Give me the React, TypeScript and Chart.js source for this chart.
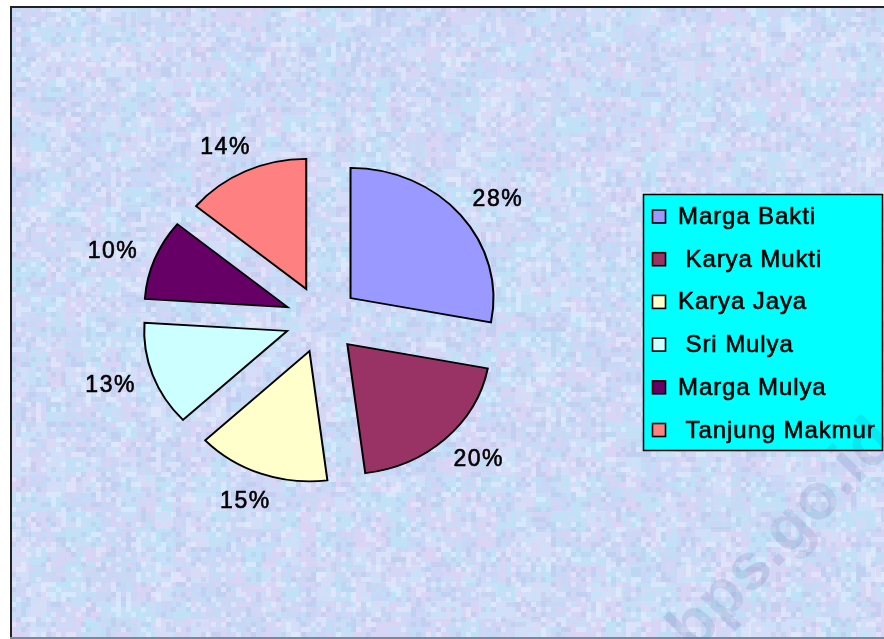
import React, { useEffect, useRef } from "react";
import { Chart, registerables, ArcElement, PieController } from "chart.js";

// ---- data ----
const CATEGORIES = ["Marga Bakti", " Karya Mukti", "Karya Jaya", " Sri Mulya", "Marga Mulya", " Tanjung Makmur"];
const PERCENTS = [28, 20, 15, 13, 10, 14];
const PERCENT_LABELS = ["28%", "20%", "15%", "13%", "10%", "14%"];
const COLORS = ["#9999FF", "#993366", "#FFFFCC", "#CCFFFF", "#660066", "#FF8080"];
const WATERMARK = "bps.go.id";

// ---- layout / style ----
const W = 884;
const H = 639;
const PIE_CX = 322;
const PIE_RADIUS = 143;
const Y_SQUASH = 0.91;
const EXPLODE = 37;
const FONT = '"Liberation Sans", Arial, Helvetica, sans-serif';

// Arc element that is pulled out from the centre by a constant distance
class ExplodedArc extends ArcElement {
  static id = "explodedArc";
  draw(ctx: CanvasRenderingContext2D) {
    const self: any = this;
    const mid = (self.startAngle + self.endAngle) / 2;
    ctx.save();
    ctx.translate(Math.cos(mid) * EXPLODE, Math.sin(mid) * EXPLODE);
    super.draw(ctx);
    ctx.restore();
  }
}
class ExplodedPieController extends PieController {
  static id = "explodedPie";
  static defaults = { dataElementType: "explodedArc" };
}

Chart.register(...registerables, ExplodedArc as any, ExplodedPieController as any);

function hash(i: number, j: number, s: number) {
  let h = Math.imul(i + 1, 374761393) ^ Math.imul(j + 7, 668265263) ^ Math.imul(s + 3, 2246822519);
  h = Math.imul(h ^ (h >>> 13), 1274126177);
  h = h ^ (h >>> 16);
  return h >>> 0;
}

const decorPlugin = {
  id: "decor",
  beforeDraw(chart: any) {
    const ctx = chart.ctx as CanvasRenderingContext2D;
    ctx.save();
    ctx.fillStyle = "#ffffff";
    ctx.fillRect(0, 0, W, H);
    const x0 = 11, y0 = 7, y1 = 638;
    ctx.beginPath();
    ctx.rect(x0, y0, W - x0, y1 - y0);
    ctx.clip();
    ctx.fillStyle = "#cbd8f5";
    ctx.fillRect(x0, y0, W - x0, y1 - y0);
    const big = ["rgba(228,210,245,0.4)", "rgba(190,232,250,0.5)", "rgba(200,212,245,0.35)", "rgba(222,230,252,0.45)", "rgba(200,215,245,0)"];
    const cb = 18;
    for (let j = 0; y0 + j * cb < y1; j++) {
      for (let i = 0; x0 + i * cb < W; i++) {
        ctx.fillStyle = big[hash(i, j, 1) % big.length];
        ctx.fillRect(x0 + i * cb, y0 + j * cb, cb, cb);
      }
    }
    const small = ["rgba(232,212,245,0.35)", "rgba(185,230,250,0.45)", "rgba(178,195,232,0.35)", "rgba(238,242,255,0.45)", "rgba(0,0,0,0)", "rgba(0,0,0,0)"];
    const cs = 5;
    for (let j = 0; y0 + j * cs < y1; j++) {
      for (let i = 0; x0 + i * cs < W; i++) {
        ctx.fillStyle = small[hash(i, j, 2) % small.length];
        ctx.fillRect(x0 + i * cs, y0 + j * cs, cs, cs);
      }
    }
    ctx.restore();
    // frame
    ctx.save();
    ctx.fillStyle = "#222";
    ctx.fillRect(10, 6, 2, 633);
    ctx.fillRect(10, 6, W - 10, 2);
    ctx.fillStyle = "#7c879c";
    ctx.fillRect(10, 637, W - 10, 2);
    ctx.restore();
  },
  beforeDatasetsDraw(chart: any) {
    const arc = chart.getDatasetMeta(0).data[0];
    const ctx = chart.ctx as CanvasRenderingContext2D;
    ctx.save();
    ctx.translate(arc.x, arc.y);
    ctx.scale(1, Y_SQUASH);
    ctx.translate(-arc.x, -arc.y);
  },
  afterDatasetsDraw(chart: any) {
    const ctx = chart.ctx as CanvasRenderingContext2D;
    ctx.restore();
    // percentage labels, outside end of each exploded slice
    const arcs = chart.getDatasetMeta(0).data;
    ctx.save();
    ctx.font = `23px ${FONT}`;
    (ctx as any).letterSpacing = "1.5px";
    ctx.fillStyle = "#000";
    ctx.strokeStyle = "#000";
    ctx.lineWidth = 0.6;
    ctx.textAlign = "center";
    ctx.textBaseline = "alphabetic";
    arcs.forEach((a: any, i: number) => {
      const mid = (a.startAngle + a.endAngle) / 2;
      const c = Math.cos(mid), s = Math.sin(mid);
      const rr = a.outerRadius + EXPLODE;
      const px = a.x + c * rr;
      const py = a.y + Y_SQUASH * s * rr;
      const n = Math.hypot(c, Y_SQUASH * s);
      const ux = c / n, uy = (Y_SQUASH * s) / n;
      const text = PERCENT_LABELS[i];
      const w = ctx.measureText(text).width;
      const h = 16;
      const g = 20;
      const lx = px + ux * g + (ux * w) / 2;
      const ly = py + uy * g + (uy * h) / 2;
      ctx.fillText(text, lx + 1, ly + 8);
      ctx.strokeText(text, lx + 1, ly + 8);
    });
    ctx.restore();
  },
  afterDraw(chart: any) {
    const ctx = chart.ctx as CanvasRenderingContext2D;
    // legend
    ctx.save();
    ctx.fillStyle = "#00FFFF";
    ctx.fillRect(643, 194, 240, 257);
    ctx.strokeStyle = "#000";
    ctx.lineWidth = 1.5;
    ctx.strokeRect(643.5, 194.5, 239, 256);
    ctx.font = `24px ${FONT}`;
    (ctx as any).letterSpacing = "0.9px";
    ctx.textAlign = "left";
    ctx.textBaseline = "alphabetic";
    CATEGORIES.forEach((name, i) => {
      const yc = 216.5 + i * 42.7;
      ctx.fillStyle = COLORS[i];
      ctx.fillRect(652.5, yc - 6.5, 13, 13);
      ctx.lineWidth = 1.6;
      ctx.strokeStyle = "#000";
      ctx.strokeRect(652.5, yc - 6.5, 13, 13);
      ctx.fillStyle = "#000";
      ctx.lineWidth = 0.6;
      ctx.fillText(name, 678, yc + 7.5);
      ctx.strokeText(name, 678, yc + 7.5);
    });
    ctx.restore();
    // watermark
    ctx.save();
    ctx.translate(694, 654);
    ctx.rotate(-0.8);
    ctx.font = `bold 66px ${FONT}`;
    ctx.fillStyle = "rgba(60,80,140,0.13)";
    ctx.textAlign = "left";
    ctx.fillText(WATERMARK, 0, 0);
    ctx.restore();
  },
};

export default function App() {
  const ref = useRef<HTMLCanvasElement>(null);
  useEffect(() => {
    const chart = new Chart(ref.current as HTMLCanvasElement, {
      type: "explodedPie" as any,
      data: {
        labels: CATEGORIES,
        datasets: [
          {
            data: PERCENTS,
            backgroundColor: COLORS,
            borderColor: "#000",
            borderWidth: 2,
            borderJoinStyle: "miter",
            offset: 0,
            hoverOffset: 0,
            radius: PIE_RADIUS,
            clip: false,
          } as any,
        ],
      },
      options: {
        animation: false,
        responsive: false,
        devicePixelRatio: 1,
        events: [],
        layout: { padding: { left: 0, right: W - 2 * PIE_CX, top: 0, bottom: 0 } },
        plugins: {
          legend: { display: false },
          tooltip: { enabled: false },
        },
      } as any,
      plugins: [decorPlugin],
    });
    return () => chart.destroy();
  }, []);
  return (
    <div style={{ position: "fixed", left: 0, top: 0, width: W, height: H, overflow: "hidden", background: "#fff" }}>
      <canvas ref={ref} width={W} height={H} style={{ display: "block", width: W, height: H }} />
    </div>
  );
}
